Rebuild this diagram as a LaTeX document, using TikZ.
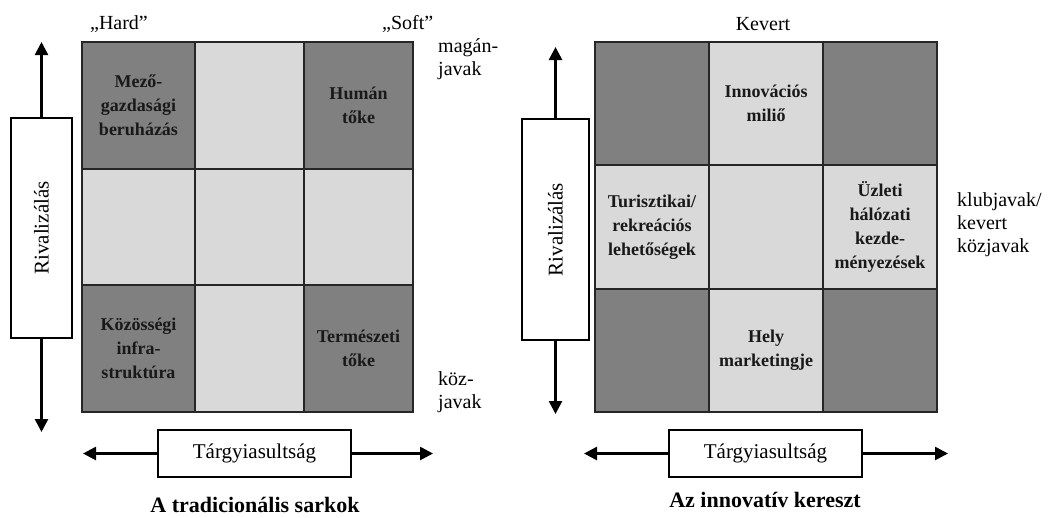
\documentclass[tikz,border=0pt]{standalone}
\usepackage{fontspec}
\setmainfont{Liberation Serif}
\usetikzlibrary{arrows.meta}
\definecolor{darkcell}{HTML}{808080}
\definecolor{lightcell}{HTML}{D9D9D9}
\definecolor{gridline}{HTML}{262626}
\tikzset{
  cellbase/.style={draw=gridline, line width=1.3pt, inner sep=0pt, outer sep=0pt, anchor=north west,
    align=center, text=black!90, font=\bfseries\fontsize{18}{24}\selectfont},
  dcell/.style={cellbase, fill=darkcell},
  lcell/.style={cellbase, fill=lightcell},
  axisbox/.style={draw=black, line width=1.3pt, fill=white, inner sep=0pt, outer sep=0pt,
    font=\fontsize{21}{24}\selectfont},
  axisarrow/.style={line width=2.6pt, -{Triangle[length=13pt,width=13pt]}},
  sidelabel/.style={inner sep=0pt, align=left, font=\fontsize{20}{23}\selectfont},
  toplabel/.style={inner sep=0pt, font=\fontsize{20}{23}\selectfont},
  title/.style={inner sep=0pt, font=\bfseries\fontsize{22}{24}\selectfont}
}
\begin{document}
\begin{tikzpicture}[x=1pt,y=-1pt]
\useasboundingbox (0,0) rectangle (1048,517);

% ---------- left grid ----------
\node[dcell, minimum width=113pt, minimum height=127pt] (L11) at (82,42) {Mező-\\gazdasági\\beruházás};
\node[lcell, minimum width=109pt, minimum height=127pt] (L12) at (195,42) {};
\node[dcell, minimum width=109pt, minimum height=127pt] (L13) at (304,42) {Humán\\tőke};
\node[lcell, minimum width=113pt, minimum height=116pt] (L21) at (82,169) {};
\node[lcell, minimum width=109pt, minimum height=116pt] (L22) at (195,169) {};
\node[lcell, minimum width=109pt, minimum height=116pt] (L23) at (304,169) {};
\node[dcell, minimum width=113pt, minimum height=127pt] (L31) at (82,285) {Közösségi\\infra-\\struktúra};
\node[lcell, minimum width=109pt, minimum height=127pt] (L32) at (195,285) {};
\node[dcell, minimum width=109pt, minimum height=127pt] (L33) at (304,285) {Természeti\\tőke};

% ---------- right grid ----------
\node[dcell, minimum width=114pt, minimum height=123pt] (R11) at (595,42) {};
\node[lcell, minimum width=114pt, minimum height=123pt] (R12) at (709,42) {Innovációs\\miliő};
\node[dcell, minimum width=114pt, minimum height=123pt] (R13) at (823,42) {};
\node[lcell, minimum width=114pt, minimum height=124pt] (R21) at (595,165) {Turisztikai/\\rekreációs\\lehetőségek};
\node[lcell, minimum width=114pt, minimum height=124pt] (R22) at (709,165) {};
\node[lcell, minimum width=114pt, minimum height=124pt] (R23) at (823,165) {Üzleti\\hálózati\\kezde-\\ményezések};
\node[dcell, minimum width=114pt, minimum height=123pt] (R31) at (595,289) {};
\node[lcell, minimum width=114pt, minimum height=123pt] (R32) at (709,289) {Hely\\marketingje};
\node[dcell, minimum width=114pt, minimum height=123pt] (R33) at (823,289) {};

% ---------- vertical axes ----------
\node[axisbox, rotate=90, minimum width=220pt, minimum height=61pt] (rivL) at (41.5,228) {Rivalizálás};
\coordinate (rivLtop) at (41.5,42);
\coordinate (rivLbot) at (41.5,432);
\draw[axisarrow] (rivL) -- (rivLtop);
\draw[axisarrow] (rivL) -- (rivLbot);

\node[axisbox, rotate=90, minimum width=221pt, minimum height=67pt] (rivR) at (555.5,229.5) {Rivalizálás};
\coordinate (rivRtop) at (555.5,47);
\coordinate (rivRbot) at (555.5,414);
\draw[axisarrow] (rivR) -- (rivRtop);
\draw[axisarrow] (rivR) -- (rivRbot);

% ---------- horizontal axes ----------
\node[axisbox, minimum width=193pt, minimum height=47pt] (tarL) at (254.5,453.5) {Tárgyiasultság};
\coordinate (tarLleft) at (83,453.5);
\coordinate (tarLright) at (433,453.5);
\draw[axisarrow] (tarL) -- (tarLleft);
\draw[axisarrow] (tarL) -- (tarLright);

\node[axisbox, minimum width=193pt, minimum height=47pt] (tarR) at (765.5,453.5) {Tárgyiasultság};
\coordinate (tarRleft) at (584,453.5);
\coordinate (tarRright) at (948,453.5);
\draw[axisarrow] (tarR) -- (tarRleft);
\draw[axisarrow] (tarR) -- (tarRright);

% ---------- labels ----------
\node[toplabel] (hard) at (119,24) {„Hard”};
\node[toplabel, anchor=west] (soft) at (382,24) {„Soft”};
\node[toplabel] (kevert) at (763,24) {Kevert};
\node[sidelabel, anchor=west] (magan) at (438,59) {magán-\\javak};
\node[sidelabel, anchor=west] (koz) at (438,392) {köz-\\javak};
\node[sidelabel, anchor=west] (klub) at (957,225) {klubjavak/\\kevert\\közjavak};

\node[title] (titleL) at (255,505) {A tradicionális sarkok};
\node[title] (titleR) at (765,500) {Az innovatív kereszt};
\end{tikzpicture}
\end{document}
